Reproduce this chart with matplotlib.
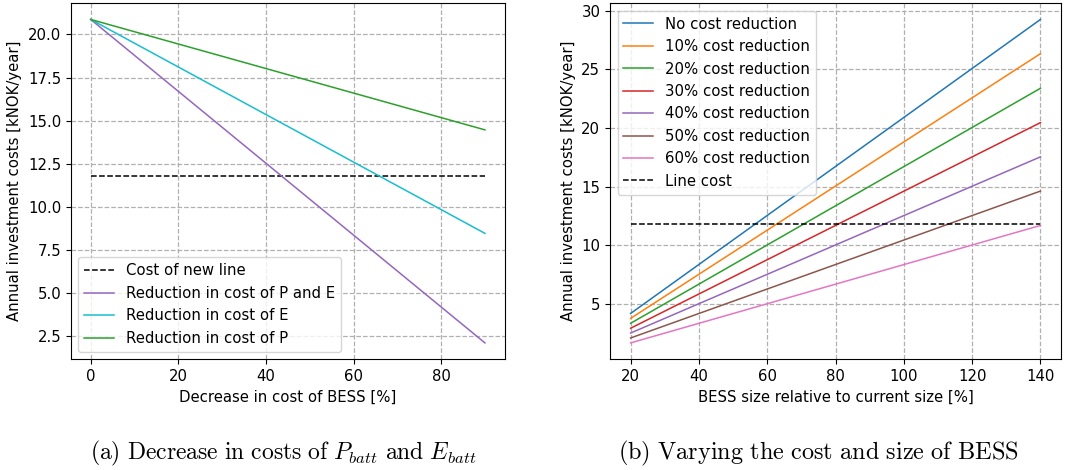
import matplotlib
matplotlib.use("Agg")
import matplotlib.pyplot as plt

plt.rcParams["mathtext.fontset"] = "cm"
plt.rcParams["font.size"] = 10.7

# (a) cost decrease of BESS components
decrease_pct = [0, 90]
line_cost_a = [11.79, 11.79]
reduction_p_and_e = [20.87, 2.12]
reduction_e = [20.87, 8.47]
reduction_p = [20.87, 14.47]

# (b) BESS size vs. cost reduction
size_pct = [20, 140]
size_series = {
    "No cost reduction": [4.18, 29.26],
    "10% cost reduction": [3.76, 26.34],
    "20% cost reduction": [3.34, 23.39],
    "30% cost reduction": [2.92, 20.46],
    "40% cost reduction": [2.51, 17.54],
    "50% cost reduction": [2.09, 14.62],
    "60% cost reduction": [1.67, 11.69],
}
line_cost_b = [11.8, 11.8]

ylabel = "Annual investment costs [kNOK/year]"

fig = plt.figure(figsize=(10.76, 4.70), dpi=100)
ax1 = fig.add_axes([0.066, 0.236, 0.403, 0.757])
ax2 = fig.add_axes([0.567, 0.236, 0.419, 0.757])

for ax in (ax1, ax2):
    ax.grid(True, linestyle="--", color="#b0b0b0", linewidth=0.9)
    ax.set_axisbelow(True)
    ax.set_ylabel(ylabel)

ax1.plot(decrease_pct, line_cost_a, "k--", linewidth=1.1, label="Cost of new line")
ax1.plot(decrease_pct, reduction_p_and_e, color="tab:purple", linewidth=1.1,
         label="Reduction in cost of P and E")
ax1.plot(decrease_pct, reduction_e, color="tab:cyan", linewidth=1.1,
         label="Reduction in cost of E")
ax1.plot(decrease_pct, reduction_p, color="tab:green", linewidth=1.1,
         label="Reduction in cost of P")
ax1.set_xlabel("Decrease in cost of BESS [%]")
ax1.set_xticks([0, 20, 40, 60, 80])
ax1.set_yticks([2.5, 5.0, 7.5, 10.0, 12.5, 15.0, 17.5, 20.0])
ax1.legend(loc="lower left")

for name, vals in size_series.items():
    ax2.plot(size_pct, vals, linewidth=1.1, label=name)
ax2.plot(size_pct, line_cost_b, "k--", linewidth=1.1, label="Line cost")
ax2.set_xlabel("BESS size relative to current size [%]")
ax2.set_xticks([20, 40, 60, 80, 100, 120, 140])
ax2.set_yticks([5, 10, 15, 20, 25, 30])
ax2.legend(loc="upper left")

fig.text(0.263, 0.036,
         r"$\mathrm{(a)\ Decrease\ in\ costs\ of\ }P_{batt}\mathrm{\ and\ }E_{batt}$",
         ha="center", va="center", fontsize=17)
fig.text(0.761, 0.036, r"$\mathrm{(b)\ Varying\ the\ cost\ and\ size\ of\ BESS}$",
         ha="center", va="center", fontsize=17.5)

fig.savefig("out.png", dpi=100)
